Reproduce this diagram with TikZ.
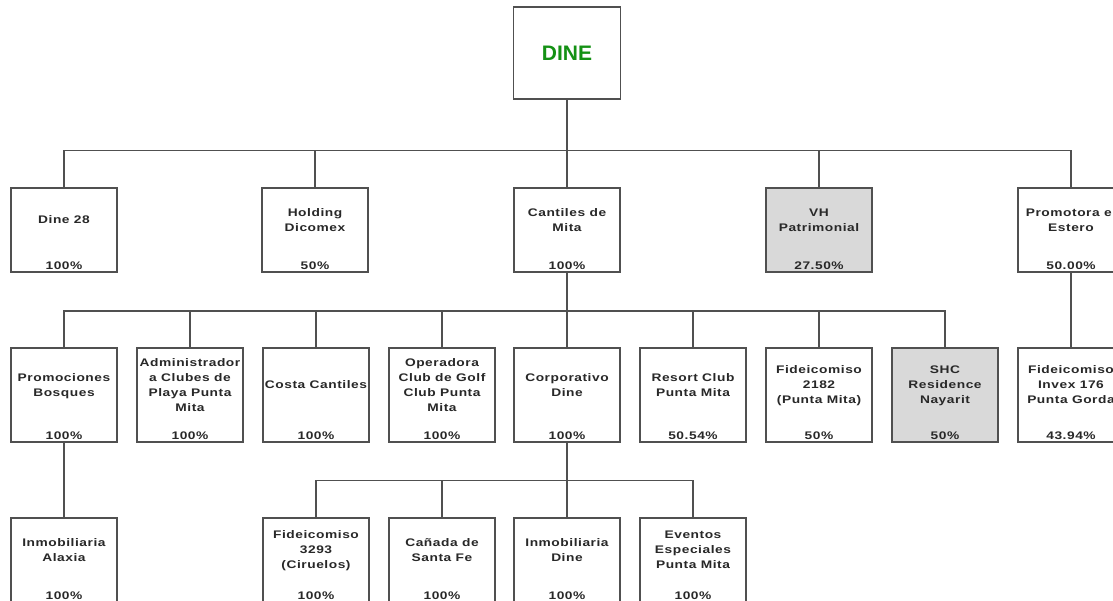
\documentclass[tikz,border=0pt]{standalone}
\usepackage{fontspec}
\newfontfamily\orgfont{Liberation Sans}[FakeStretch=1.25,LetterSpace=5]
\newfontfamily\topfont{Liberation Sans}
\usetikzlibrary{positioning}
\definecolor{linegray}{RGB}{80,80,80}
\definecolor{boxgray}{RGB}{217,217,217}
\definecolor{textgray}{RGB}{40,40,40}
\definecolor{dinegreen}{RGB}{20,145,20}

\begin{document}
\begin{tikzpicture}[x=1pt,y=-1pt,
	entity/.style={draw=linegray, line width=1.2pt, fill=white, minimum width=106pt, minimum height=84pt,
		inner sep=2pt, align=center, text=textgray, text depth=20pt,
		font=\orgfont\bfseries\fontsize{11}{15}\selectfont},
	tall/.style={minimum height=94pt},
	shaded/.style={fill=boxgray},
	pct/.style={anchor=base, yshift=3.5pt, inner sep=0pt, text=textgray,
		font=\orgfont\bfseries\fontsize{11}{15}\selectfont},
	link/.style={draw=linegray, line width=1.2pt}]

			\useasboundingbox[fill=white] (0,0) rectangle (1113,601);

			\node[entity, minimum width=107pt, minimum height=92pt, text depth=0pt, text=dinegreen,
				font=\topfont\bfseries\fontsize{21}{25}\selectfont] (dine) at (567,53) {DINE};

			\node[entity, label={[pct]south:100\%}] (dine28) at (64,230) {Dine 28};
			\node[entity, label={[pct]south:50\%}] (dicomex) at (315,230) {Holding\\Dicomex};
			\node[entity, label={[pct]south:100\%}] (cantiles) at (567,230) {Cantiles de\\Mita};
			\node[entity, shaded, label={[pct]south:27.50\%}] (vhpat) at (819,230) {VH\\Patrimonial};
			\node[entity, label={[pct]south:50.00\%}] (promotora) at (1071,230) {Promotora el\\Estero};

			\node[entity, tall, label={[pct]south:100\%}] (bosques) at (64,395) {Promociones\\Bosques};
			\node[entity, tall, label={[pct]south:100\%}] (clubes) at (190,395) {Administrador\\a Clubes de\\Playa Punta\\Mita};
			\node[entity, tall, label={[pct]south:100\%}] (costa) at (316,395) {Costa Cantiles};
			\node[entity, tall, label={[pct]south:100\%}] (golf) at (442,395) {Operadora\\Club de Golf\\Club Punta\\Mita};
			\node[entity, tall, label={[pct]south:100\%}] (corpo) at (567,395) {Corporativo\\Dine};
			\node[entity, tall, label={[pct]south:50.54\%}] (resort) at (693,395) {Resort Club\\Punta Mita};
			\node[entity, tall, label={[pct]south:50\%}] (fid2182) at (819,395) {Fideicomiso\\2182\\(Punta Mita)};
			\node[entity, tall, shaded, label={[pct]south:50\%}] (shc) at (945,395) {SHC\\Residence\\Nayarit};
			\node[entity, tall, label={[pct]south:43.94\%}] (invex) at (1071,395) {Fideicomiso\\Invex 176\\Punta Gorda};

			\node[entity, label={[pct]south:100\%}] (alaxia) at (64,560) {Inmobiliaria\\Alaxia};
			\node[entity, label={[pct]south:100\%}] (fid3293) at (316,560) {Fideicomiso\\3293\\(Ciruelos)};
			\node[entity, label={[pct]south:100\%}] (canada) at (442,560) {Cañada de\\Santa Fe};
			\node[entity, label={[pct]south:100\%}] (inmodine) at (567,560) {Inmobiliaria\\Dine};
			\node[entity, label={[pct]south:100\%}] (eventos) at (693,560) {Eventos\\Especiales\\Punta Mita};

			\foreach \c in {dine28,dicomex,cantiles,vhpat,promotora}
				\draw[link] (dine.south) -- ++(0,51) -| (\c.north);

			\foreach \c in {bosques,clubes,costa,golf,corpo,resort,fid2182,shc}
				\draw[link] (cantiles.south) -- ++(0,38.4) -| (\c.north);

			\draw[link] (promotora.south) -- (invex.north);
			\draw[link] (bosques.south) -- (alaxia.north);

			\foreach \c in {fid3293,canada,inmodine,eventos}
				\draw[link] (corpo.south) -- ++(0,38) -| (\c.north);

\end{tikzpicture}
\end{document}
